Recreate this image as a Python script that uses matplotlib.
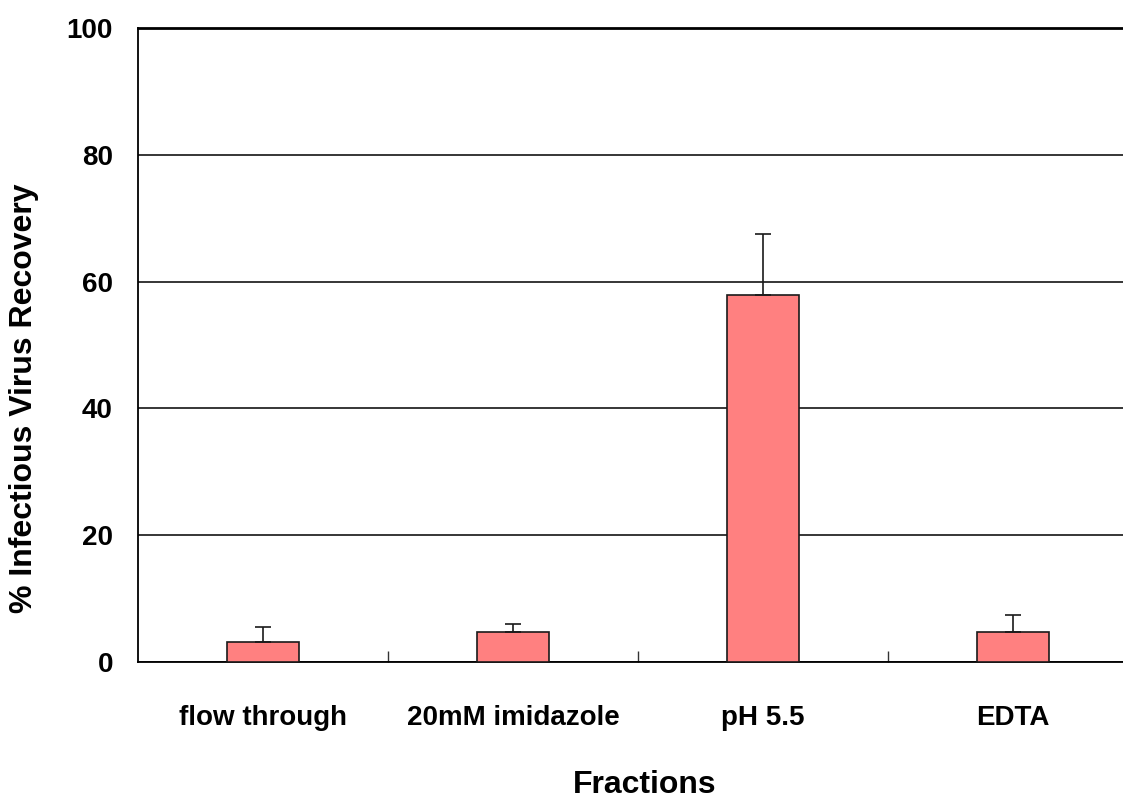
import matplotlib
matplotlib.use("Agg")
import matplotlib.pyplot as plt
import numpy as np

categories = ["flow through", "20mM imidazole", "pH 5.5", "EDTA"]
recovery = [3.2, 4.8, 57.9, 4.8]
error_up = [2.3, 1.2, 9.6, 2.6]
y_ticks = [0, 20, 40, 60, 80, 100]

plt.rcParams['font.family'] = ['Liberation Sans', 'DejaVu Sans']
plt.rcParams['font.weight'] = 'bold'

fig = plt.figure(figsize=(11.23, 7.99), dpi=100)
ax = fig.add_axes([138/1123, 137/799, 1000/1123, 634/799])

x = np.arange(len(categories))
ax.bar(x, recovery, width=0.29, color='#FF8080', edgecolor='#1a1a1a', linewidth=1.2, zorder=3)
ax.errorbar(x, recovery, yerr=[np.zeros(len(error_up)), error_up], fmt='none',
            ecolor='#1a1a1a', elinewidth=1.2, capsize=6, capthick=1.2, zorder=4)

ax.set_xlim(-0.5, 3.5)
ax.set_ylim(0, 100)
ax.set_yticks(y_ticks)
ax.set_yticklabels([str(v) for v in y_ticks], fontsize=20, fontweight='bold')
ax.yaxis.grid(True, color='black', linewidth=1.1, zorder=0)
ax.set_axisbelow(True)
ax.tick_params(axis='y', length=0, pad=18)

ax.set_xticks(x)
ax.set_xticklabels(categories, fontsize=20, fontweight='bold')
ax.tick_params(axis='x', which='major', length=0, pad=31)
ax.set_xticks([0.5, 1.5, 2.5], minor=True)
ax.tick_params(axis='x', which='minor', direction='in', length=8, width=1, color='#333333')

for s in ['left', 'bottom']:
    ax.spines[s].set_linewidth(1.3)
ax.spines['top'].set_linewidth(2.0)
ax.spines['right'].set_visible(False)

ax.set_ylabel("% Infectious Virus Recovery", fontsize=23, fontweight='bold')
ax.set_xlabel("Fractions", fontsize=23, fontweight='bold')
ax.yaxis.set_label_coords(-0.099, 0.416)
ax.xaxis.set_label_coords(0.507, -0.17)

fig.savefig("out.png", dpi=100)
